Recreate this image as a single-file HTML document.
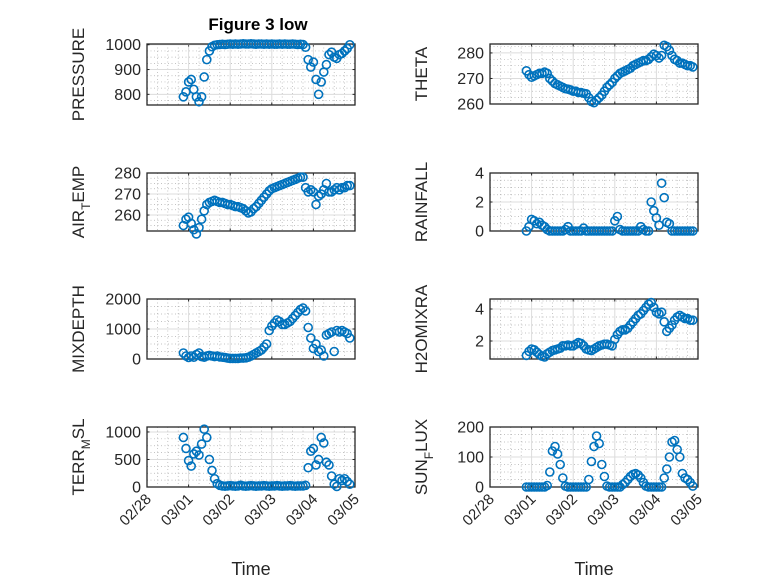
<!DOCTYPE html>
<html><head><meta charset="utf-8"><style>
html,body{margin:0;padding:0;background:#fff;}
svg{display:block;font-family:"Liberation Sans","DejaVu Sans",sans-serif;}
</style></head><body>
<svg id="fig" width="778" height="583" viewBox="0 0 778 583">
<rect width="778" height="583" fill="#fff"/>
<text x="258" y="30" text-anchor="middle" font-size="17" font-weight="bold" fill="#000">Figure 3 low</text>
</svg>
<script>
// time axis: days since 02/28, start + 1.5-hour sampling
const tStart = 0.875;
const tStep = 0.0625;
const dateTicks = ["02/28","03/01","03/02","03/03","03/04","03/05"];

const pressure = [790,810,850,860,820,790,770,790,870,940,975,992,998,
1000,1001,1002,1001,1002,1003,1002,1003,1002,1003,1004,1003,1003,1004,1003,1002,1003,1003,1002,1003,1002,1003,1002,1002,1003,1002,1003,1002,1002,1003,1002,1001,1002,1001,
990,940,910,930,860,800,850,890,920,960,970,950,945,960,965,975,985,1000];
const airTemp = [255,258,259,256,253,251,254,258,262,265,266,266.5,267,266.5,266,266,265.5,265,265,264.5,264,264,263.5,263,262,261,261.5,263,264,265.5,267,268.5,270,271.5,272.5,273,273.5,274,274.5,275,275.5,276,276.5,277,277.5,278,278,273,271,272,271,265,269,270,272,275,271,271,272,273,272,273,273,274,274];
const mixDepth = [200,100,50,100,60,150,200,80,60,100,120,100,80,100,70,60,50,30,20,20,20,20,30,30,40,60,100,150,200,250,300,400,500,950,1100,1200,1300,1250,1150,1150,1200,1250,1350,1450,1550,1650,1700,1600,1050,700,350,500,250,300,100,800,850,900,250,950,900,950,900,850,700];
const terrMsl = [900,700,480,380,600,650,580,780,1050,900,500,300,150,60,30,20,15,20,25,20,15,20,30,20,15,20,25,20,15,20,20,25,20,15,20,20,25,20,15,20,20,25,20,15,20,20,20,30,350,650,700,400,500,900,800,450,400,200,50,10,150,120,150,100,50];
const theta = [273,271.5,270.5,271,271.5,272,272,272.5,272,270,269,268,267.5,267,266.5,266,265.8,265.5,265,265,264.5,264.5,264.2,264,262.5,261,260.5,261.5,262.5,263.5,265,266.5,267.5,268.5,270,271,272,272.5,273,273.5,274,275,275.5,276,276.5,277,277,277.5,278.5,279.5,279,278,279,283,282.5,281,279,277.5,277,276,276,275.5,275,275,274.5];
const rainfall = [0,0.3,0.8,0.7,0.5,0.6,0.4,0.3,0.1,0,0,0,0,0,0,0.1,0.3,0,0,0,0,0,0.2,0,0,0,0,0,0,0,0,0,0,0,0.7,1.0,0.1,0,0,0,0,0,0,0,0.3,0.1,0,0,2.0,1.4,0.9,0.4,3.3,2.3,0.6,0.5,0,0,0,0,0,0,0,0,0];
const h2oMix = [1.1,1.35,1.5,1.45,1.3,1.15,1.05,1.0,1.2,1.3,1.4,1.45,1.5,1.55,1.7,1.7,1.75,1.7,1.7,1.8,1.9,1.85,1.7,1.5,1.45,1.4,1.5,1.6,1.7,1.75,1.8,1.8,1.75,1.7,2.1,2.4,2.6,2.7,2.7,2.8,3.0,3.2,3.4,3.6,3.7,3.9,4.1,4.3,4.4,4.1,3.8,3.7,3.8,3.2,2.6,2.8,3.0,3.3,3.5,3.6,3.5,3.4,3.4,3.3,3.3];
const sunFlux = [0,0,0,0,0,0,0,0,5,50,120,135,110,75,30,3,0,0,0,0,0,0,0,0,25,85,135,170,145,75,35,3,0,0,0,0,0,8,15,25,35,42,45,40,30,15,3,0,0,0,0,0,0,30,60,100,150,155,125,100,45,30,25,15,3];

const NS = "http://www.w3.org/2000/svg";
const svg = document.getElementById("fig");
function mk(tag, attrs, parent){
  const e = document.createElementNS(NS, tag);
  for (const k in attrs) e.setAttribute(k, attrs[k]);
  (parent||svg).appendChild(e);
  return e;
}
const AX = "#262626";
const panels = [
  {key:"pressure", data:pressure, x0:147, y0:44, y1:105, ymin:757, ymax:1003, ticks:[800,900,1000], minor:[775,825,850,875,925,950,975], label:["PRESSURE"]},
  {key:"theta", data:theta, x0:490, y0:44, y1:104, ymin:260, ymax:283.5, ticks:[260,270,280], minor:[262.5,265,267.5,272.5,275,277.5,282.5], label:["THETA"]},
  {key:"air-temp", data:airTemp, x0:147, y0:173, y1:231, ymin:252.4, ymax:280, ticks:[260,270,280], minor:[255,257.5,262.5,265,267.5,272.5,275,277.5], label:["AIR","T","EMP"]},
  {key:"rainfall", data:rainfall, x0:490, y0:173, y1:231, ymin:0, ymax:4, ticks:[0,2,4], minor:[0.5,1,1.5,2.5,3,3.5], label:["RAINFALL"]},
  {key:"mixdepth", data:mixDepth, x0:147, y0:299, y1:359, ymin:0, ymax:2000, ticks:[0,1000,2000], minor:[250,500,750,1250,1500,1750], label:["MIXDEPTH"]},
  {key:"h2omixra", data:h2oMix, x0:490, y0:299, y1:359, ymin:0.875, ymax:4.625, ticks:[2,4], minor:[1,1.5,2.5,3,3.5,4.5], label:["H2OMIXRA"]},
  {key:"terr-msl", data:terrMsl, x0:147, y0:427, y1:487, ymin:0, ymax:1090, ticks:[0,500,1000], minor:[125,250,375,625,750,875], label:["TERR","M","SL"]},
  {key:"sun-flux", data:sunFlux, x0:490, y0:427, y1:487, ymin:0, ymax:200, ticks:[0,100,200], minor:[25,50,75,125,150,175], label:["SUN","F","LUX"]}
];
const W = 208, DAYS = 5;
panels.forEach((p, pi) => {
  const g = mk("g", {});
  
  
  const xs = t => p.x0 + t / DAYS * W;
  const ys = v => p.y1 - (v - p.ymin) / (p.ymax - p.ymin) * (p.y1 - p.y0);
  mk("rect", {x:p.x0, y:p.y0, width:W, height:p.y1-p.y0, fill:"#fff"}, g);
  for (let d = 0; d < DAYS; d++) for (let q = 1; q < 4; q++) {
    const x = xs(d + q/4);
    mk("line", {x1:x, x2:x, y1:p.y0, y2:p.y1, stroke:"#b0b0b0", "stroke-width":0.7, "stroke-dasharray":"1 2.5"}, g);
  }
  p.minor.forEach(v => {
    const y = ys(v);
    if (y > p.y0 && y < p.y1) mk("line", {x1:p.x0, x2:p.x0+W, y1:y, y2:y, stroke:"#b0b0b0", "stroke-width":0.7, "stroke-dasharray":"1 2.5"}, g);
  });
  dateTicks.forEach((lab, i) => {
    const x = xs(i);
    mk("line", {x1:x, x2:x, y1:p.y0, y2:p.y1, stroke:"#dcdcdc", "stroke-width":1}, g);
    mk("line", {x1:x, x2:x, y1:p.y1, y2:p.y1-2.5, stroke:AX, "stroke-width":1}, g);
    mk("line", {x1:x, x2:x, y1:p.y0, y2:p.y0+2.5, stroke:AX, "stroke-width":1}, g);
    if (pi >= 6) {
      const tx = mk("text", {x:x+5, y:p.y1+13, "text-anchor":"end", "font-size":15, fill:AX, transform:`rotate(-45 ${x+5} ${p.y1+13})`}, g);
      tx.textContent = lab;
      
      
    }
  });
  p.ticks.forEach(v => {
    const y = ys(v);
    mk("line", {x1:p.x0, x2:p.x0+W, y1:y, y2:y, stroke:"#dcdcdc", "stroke-width":1}, g);
    mk("line", {x1:p.x0, x2:p.x0+2.5, y1:y, y2:y, stroke:AX, "stroke-width":1}, g);
    mk("line", {x1:p.x0+W, x2:p.x0+W-2.5, y1:y, y2:y, stroke:AX, "stroke-width":1}, g);
    const tx = mk("text", {x:p.x0-6, y:y+5.5, "text-anchor":"end", "font-size":16, fill:AX}, g);
    tx.textContent = String(v);
    
    
  });
  mk("rect", {x:p.x0, y:p.y0, width:W, height:p.y1-p.y0, fill:"none", stroke:AX, "stroke-width":1.3}, g);
  const clip = mk("g", {}, g);
  p.data.forEach((v, i) => {
    const c = mk("circle", {cx:xs(tStart + i*tStep), cy:ys(v), r:4, fill:"none", stroke:"#0072BD", "stroke-width":1.6}, clip);
    
    
  });
  const lx = p.x0 - 63, ly = (p.y0 + p.y1) / 2;
  const yl = mk("text", {x:lx, y:ly, "text-anchor":"middle", "font-size":17, fill:AX, transform:`rotate(-90 ${lx} ${ly})`}, g);
  
  
  if (p.label.length === 1) yl.textContent = p.label[0];
  else {
    const a = mk("tspan", {}, yl); a.textContent = p.label[0];
    const b = mk("tspan", {"font-size":12, dy:6}, yl); b.textContent = p.label[1];
    const c = mk("tspan", {dy:-6}, yl); c.textContent = p.label[2];
  }
});
[[251,"time-label-left"],[594,"time-label-right"]].forEach(([x,n]) => {
  const t = mk("text", {x:x, y:575, "text-anchor":"middle", "font-size":18, fill:AX});
  t.textContent = "Time";
  
  
});
</script>
</body></html>
